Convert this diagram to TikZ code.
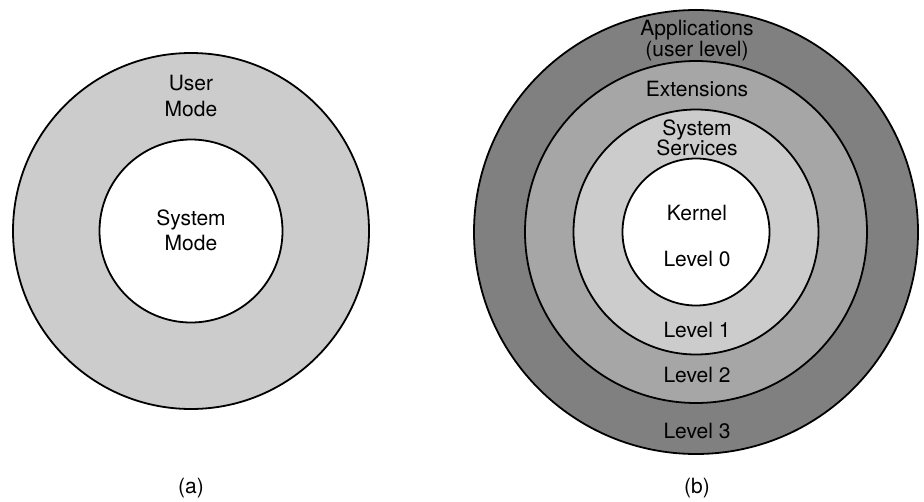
\documentclass[tikz,border=0pt]{standalone}
\usepackage{fontspec}
\setmainfont{TeX Gyre Heros}
\definecolor{ringlight}{HTML}{CCCCCC}
\definecolor{ringmid}{HTML}{A6A6A6}
\definecolor{ringdark}{HTML}{808080}
\begin{document}
\begin{tikzpicture}[x=1pt,y=-1pt,
  ring/.style={draw=black, line width=1.8pt, circle, inner sep=0pt, outer sep=0pt},
  lbl/.style={anchor=base, inner sep=0pt, font=\fontsize{21}{25}\selectfont}]
\useasboundingbox (0,0) rectangle (924,501);
% (a)
\node[ring, fill=ringlight, minimum size=356pt] (auser) at (191,231) {};
\node[ring, fill=white, minimum size=183pt] (asys) at (191,231) {};
\node[lbl] (tuser) at (191,90.7) {User};
\node[lbl] (tumode) at (191,116) {Mode};
\node[lbl] (tsys) at (191,225.3) {System};
\node[lbl] (tsmode) at (191,250) {Mode};
\node[lbl] (ta) at (191,493) {(a)};
% (b)
\node[ring, fill=ringdark, minimum size=444pt] (bapp) at (696,232) {};
\node[ring, fill=ringmid, minimum size=342pt] (bext) at (696,232) {};
\node[ring, fill=ringlight, minimum size=245pt] (bsvc) at (696,232) {};
\node[ring, fill=white, minimum size=147pt] (bkern) at (696,232) {};
\node[lbl] (tapp) at (697,35.7) {Applications};
\node[lbl] (tuserlvl) at (697,56) {(user level)};
\node[lbl] (text) at (697,96.7) {Extensions};
\node[lbl] (tsys2) at (697,135) {System};
\node[lbl] (tsvc) at (697,155.7) {Services};
\node[lbl] (tkern) at (697,220) {Kernel};
\node[lbl] (tl0) at (697,266.7) {Level 0};
\node[lbl] (tl1) at (697,337.3) {Level 1};
\node[lbl] (tl2) at (697,382.3) {Level 2};
\node[lbl] (tl3) at (697,438.3) {Level 3};
\node[lbl] (tb) at (697,493) {(b)};
\end{tikzpicture}
\end{document}
